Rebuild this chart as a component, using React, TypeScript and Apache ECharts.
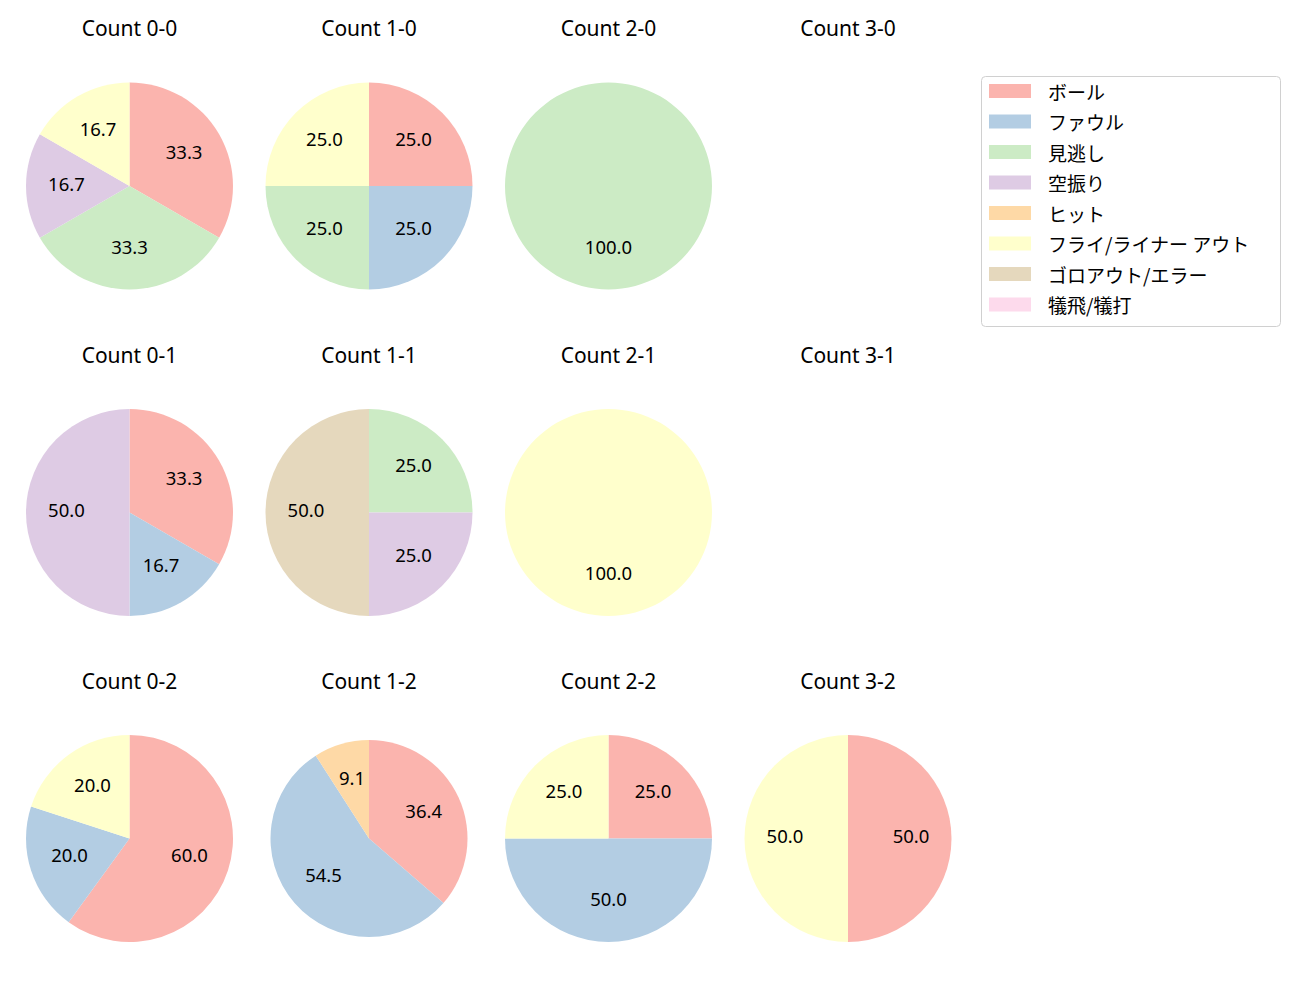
import React, { useEffect, useRef } from "react";
import * as echarts from "echarts";

const categories = [
  "ボール",
  "ファウル",
  "見逃し",
  "空振り",
  "ヒット",
  "フライ/ライナー アウト",
  "ゴロアウト/エラー",
  "犠飛/犠打",
];
const colors = ["#fbb4ae", "#b3cde3", "#ccebc5", "#decbe4", "#fed9a6", "#ffffcc", "#e5d8bd", "#fddaec"];

const countTitles = ["0-0", "1-0", "2-0", "3-0", "0-1", "1-1", "2-1", "3-1", "0-2", "1-2", "2-2", "3-2"];
const c00 = [2, 0, 2, 1, 0, 1, 0, 0];
const c10 = [1, 1, 1, 0, 0, 1, 0, 0];
const c20 = [0, 0, 1, 0, 0, 0, 0, 0];
const c30 = [0, 0, 0, 0, 0, 0, 0, 0];
const c01 = [2, 1, 0, 3, 0, 0, 0, 0];
const c11 = [0, 0, 1, 1, 0, 0, 2, 0];
const c21 = [0, 0, 0, 0, 0, 1, 0, 0];
const c31 = [0, 0, 0, 0, 0, 0, 0, 0];
const c02 = [3, 1, 0, 0, 0, 1, 0, 0];
const c12 = [4, 6, 0, 0, 1, 0, 0, 0];
const c22 = [1, 2, 0, 0, 0, 1, 0, 0];
const c32 = [1, 0, 0, 0, 0, 1, 0, 0];
const pieCounts = [c00, c10, c20, c30, c01, c11, c21, c31, c02, c12, c22, c32];

// layout
const colX = [129.5, 369, 608.5, 848];
const rowY = [186, 512.5, 838.5];
const titleY = [27.5, 354.5, 680.5];
const LATIN = '"Noto Sans", "Noto Sans CJK JP", sans-serif';
const CJK = '"Noto Sans CJK JP", "Noto Sans", sans-serif';

export default function App() {
  const ref = useRef<HTMLDivElement>(null);
  useEffect(() => {
    if (!ref.current) return;
    const chart = echarts.init(ref.current, undefined, { renderer: "svg" });
    const series: any[] = [];
    const graphic: any[] = [
      {
        type: "rect",
        silent: true,
        z: 0,
        shape: { x: 981.5, y: 76.5, width: 299, height: 250, r: 4 },
        style: { fill: "none", stroke: "#d0d0d0", lineWidth: 1 },
      },
    ];
    pieCounts.forEach((counts, i) => {
      const col = i % 4;
      const row = Math.floor(i / 4);
      const cx = colX[col];
      const cy = rowY[row];
      const r = countTitles[i] === "1-2" ? 98.5 : 103.5;
      graphic.push({
        type: "text",
        x: cx,
        y: titleY[row],
        silent: true,
        style: {
          text: "Count " + countTitles[i],
          fontSize: 21,
          fontFamily: LATIN,
          fill: "#000",
          align: "center",
          verticalAlign: "middle",
          textAlign: "center",
          textVerticalAlign: "middle",
        },
      });
      const total = counts.reduce((a, b) => a + b, 0);
      if (total === 0) return;
      const data = categories.map((name, k) => ({
        name,
        value: counts[k],
        itemStyle: { color: colors[k] },
      }));
      series.push({
        type: "pie",
        name: "Count " + countTitles[i],
        center: [cx, cy],
        radius: r,
        startAngle: 90,
        clockwise: true,
        silent: true,
        avoidLabelOverlap: false,
        label: { show: false },
        labelLine: { show: false },
        itemStyle: { borderWidth: 0 },
        emphasis: { disabled: true },
        data,
      });
      series.push({
        type: "pie",
        name: "Label " + countTitles[i],
        center: [cx, cy],
        radius: [r * 0.16, r],
        startAngle: 90,
        clockwise: true,
        silent: true,
        avoidLabelOverlap: false,
        itemStyle: { color: "rgba(0,0,0,0)", borderWidth: 0 },
        emphasis: { disabled: true },
        labelLine: { show: false },
        label: {
          show: true,
          position: "inside",
          fontSize: 18.5,
          fontFamily: LATIN,
          color: "#000",
          offset: [0, -3],
          formatter: (p: any) => (p.value > 0 ? ((p.value / total) * 100).toFixed(1) : ""),
        },
        data: categories.map((name, k) => ({ name, value: counts[k] })),
      });
    });

    chart.setOption({
      animation: false,
      color: colors,
      legend: {
        orient: "vertical",
        left: 989,
        top: 81.5,
        data: categories,
        itemWidth: 42,
        itemHeight: 14,
        itemGap: 11.5,
        padding: 0,
        selectedMode: false,
        icon: "rect",
        textStyle: {
          fontSize: 19,
          fontFamily: CJK,
          color: "#000",
          padding: [0, 0, 0, 12],
        },
      },
      graphic,
      series,
    });
    return () => chart.dispose();
  }, []);
  return (
    <div
      ref={ref}
      style={{ position: "absolute", left: 0, top: 0, width: 1300, height: 1000, background: "#fff" }}
    />
  );
}
